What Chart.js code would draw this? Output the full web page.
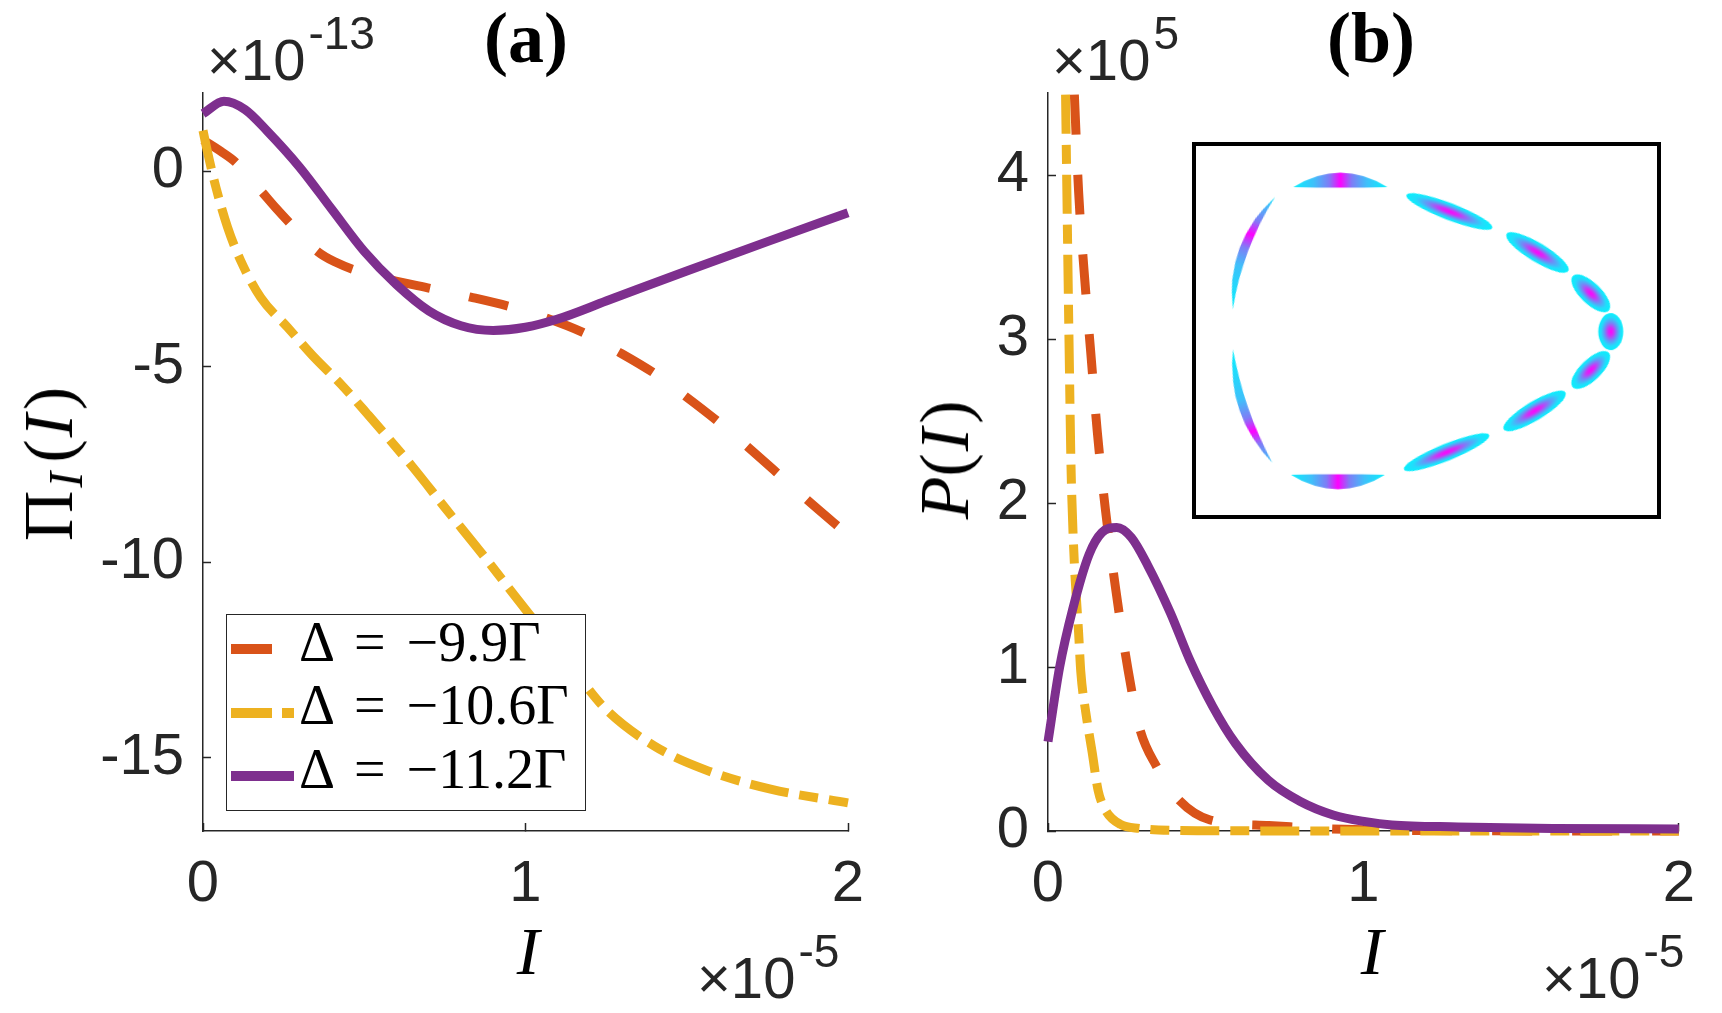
<!DOCTYPE html>
<html>
<head>
<meta charset="utf-8">
<script src="https://cdn.jsdelivr.net/npm/chart.js@4.4.0/dist/chart.umd.min.js"></script>
<style>
  html, body { margin: 0; padding: 0; background: #fff; }
  #page { position: relative; width: 1722px; height: 1013px; overflow: hidden; background: #fff; }
  canvas.full { position: absolute; left: 0; top: 0; }
  .t { position: absolute; white-space: nowrap; color: #262626; line-height: 1; }
  .sans { font-family: "Liberation Sans", Arial, sans-serif; font-size: 58px; }
  .sup { font-size: 46px; position: relative; top: -31px; margin-left: 3px; }
  .serif { font-family: "Liberation Serif", "Times New Roman", serif; }
  .title { font-weight: bold; font-size: 72px; color: #000; }
  .lab { font-size: 68px; color: #000; }
  .ylab { font-size: 70px; color: #000; }
  .rot { transform: translate(-50%, -50%) rotate(-90deg); }
  #legendBox { position: absolute; left: 226px; top: 614px; width: 360px; height: 197px;
    box-sizing: border-box; border: 1.5px solid #262626; background: #fff; }
  .swatch { position: absolute; height: 10px; }
  .ltxt { font-size: 56px; color: #000; }
  .ltxt .op { margin: 0 21px 0 19px; }
  #insetBox { position: absolute; left: 1192px; top: 142px; width: 469px; height: 377px;
    box-sizing: border-box; border: 4px solid #000; background: #fff; }
  #inset { position: absolute; left: 0; top: 0; }
</style>
</head>
<body>
<div id="page">
  <canvas id="chartA" class="full" width="1722" height="1013"></canvas>
  <canvas id="chartB" class="full" width="1722" height="1013"></canvas>

  <div id="titleA" class="t serif title">(a)</div>
  <div id="titleB" class="t serif title">(b)</div>

  <div id="expAy" class="t sans">×10<span class="sup">-13</span></div>
  <div id="expBy" class="t sans">×10<span class="sup">5</span></div>
  <div id="expAx" class="t sans">×10<span class="sup">-5</span></div>
  <div id="expBx" class="t sans">×10<span class="sup">-5</span></div>

  <div id="xlabA" class="t serif lab"><i>I</i></div>
  <div id="xlabB" class="t serif lab"><i>I</i></div>
  <div class="t serif ylab rot" style="left:49px; top:464px;">Π<i style="font-size:0.68em; position:relative; top:0.2em; margin:0 9px 0 3px;">I</i>(<i style="margin:0 4px 0 2px;">I</i>)</div>
  <div class="t serif ylab rot" style="left:945px; top:460px;"><i>P</i>(<i style="margin:0 4px 0 2px;">I</i>)</div>

  <div id="legendBox"></div>
  <div class="swatch" style="left:231px; top:644px; width:41px; background:#D95319;"></div>
  <div class="swatch" style="left:231px; top:708px; width:41px; background:#EDB120;"></div>
  <div class="swatch" style="left:282px; top:708px; width:12px; background:#EDB120;"></div>
  <div class="swatch" style="left:231px; top:771px; width:63px; background:#7E2F8E;"></div>
  <div id="leg1" class="t serif ltxt">Δ<span class="op">=</span>−9.9Γ</div>
  <div id="leg2" class="t serif ltxt">Δ<span class="op">=</span>−10.6Γ</div>
  <div id="leg3" class="t serif ltxt">Δ<span class="op">=</span>−11.2Γ</div>

  <div id="insetBox"><canvas id="inset" width="461" height="369"></canvas></div>
</div>

<script>
const ORANGE = '#D95319', YELLOW = '#EDB120', PURPLE = '#7E2F8E', INK = '#262626';

// shared x axis, I in units of 1e-5
const xTicks = [0, 1, 2];

// panel (a): Pi_I(I) in units of 1e-13
const yTicksA = [-15, -10, -5, 0];
const aOrangeX = [0, 0.055, 0.101, 0.184, 0.226, 0.272, 0.355, 0.412, 0.469, 0.583, 0.707, 0.83, 0.95, 1.064, 1.178, 1.28, 1.396, 1.487, 1.592, 1.675, 1.778, 1.866, 2.0];
const aOrangeY = [0.8, 0.51, 0.23, -0.54, -0.94, -1.35, -2.05, -2.33, -2.52, -2.78, -3.0, -3.22, -3.46, -3.75, -4.12, -4.58, -5.15, -5.7, -6.37, -6.95, -7.7, -8.35, -9.3];
const aYellowX = [0, 0.013, 0.04, 0.076, 0.117, 0.179, 0.262, 0.345, 0.427, 0.51, 0.649, 0.752, 0.872, 0.966, 1.149, 1.248, 1.40, 1.556, 1.76, 2.0];
const aYellowY = [1.04, 0.53, -0.41, -1.43, -2.29, -3.23, -3.99, -4.76, -5.44, -6.21, -7.55, -8.62, -9.85, -10.85, -12.75, -13.75, -14.7, -15.3, -15.8, -16.15];
const aPurpleX = [0, 0.065, 0.13, 0.2, 0.3, 0.4, 0.5, 0.6, 0.7, 0.8, 0.9, 1.0, 1.1, 1.25, 1.5, 1.75, 2.0];
const aPurpleY = [1.47, 1.79, 1.58, 1.02, 0.1, -0.98, -2.05, -2.9, -3.57, -3.95, -4.07, -3.99, -3.78, -3.32, -2.55, -1.8, -1.06];

// panel (b): P(I) in units of 1e5
const yTicksB = [0, 1, 2, 3, 4];
const bOrangeX = [0.0836, 0.097, 0.1146, 0.135, 0.156, 0.182, 0.215, 0.254, 0.29, 0.345, 0.405, 0.514, 0.70, 0.94, 1.3, 2.0];
const bOrangeY = [4.49, 3.90, 3.41, 2.93, 2.44, 1.96, 1.47, 0.98, 0.63, 0.39, 0.21, 0.067, 0.033, 0.01, 0.002, 0];
const bYellowX = [0.0557, 0.0595, 0.0635, 0.068, 0.073, 0.0836, 0.089, 0.097, 0.104, 0.12, 0.14, 0.159, 0.182, 0.23, 0.29, 0.4, 0.6, 1.0, 2.0];
const bYellowY = [4.49, 3.95, 3.40, 2.81, 2.22, 1.63, 1.45, 1.21, 0.97, 0.72, 0.48, 0.246, 0.128, 0.04, 0.016, 0.004, 0.001, 0, 0];
const bPurpleX = [0, 0.037, 0.078, 0.13, 0.171, 0.218, 0.264, 0.316, 0.388, 0.45, 0.522, 0.594, 0.698, 0.80, 0.904, 1.007, 1.09, 1.3, 1.6, 2.0];
const bPurpleY = [0.545, 1.0, 1.35, 1.685, 1.82, 1.85, 1.79, 1.62, 1.33, 1.04, 0.76, 0.535, 0.31, 0.18, 0.098, 0.057, 0.037, 0.025, 0.016, 0.012];

// inset: blob centres in inset coordinates
const insetX = [140, 49.3, 47.9, 137.5, 254.5, 347, 403, 424, 403, 344, 251.6];
const insetY = [32, 102.3, 264.8, 338, 58, 101.5, 145, 185.7, 226.5, 270, 314];

function series(xs, ys) {
  return xs.map((x, i) => ({ x: x, y: ys[i] }));
}

function lineSet(label, xs, ys, color, dash, order, clip) {
  return {
    label: label, data: series(xs, ys), showLine: true,
    borderColor: color, backgroundColor: color, borderWidth: 9,
    borderDash: dash, borderCapStyle: 'butt', borderJoinStyle: 'round',
    pointRadius: 0, pointHoverRadius: 0, cubicInterpolationMode: 'monotone',
    fill: false, order: order, clip: clip
  };
}

function axis(min, max, ticks, fit) {
  return {
    type: 'linear', min: min, max: max,
    afterBuildTicks: s => { s.ticks = ticks.map(v => ({ value: v })); },
    afterFit: fit,
    grid: { drawOnChartArea: false, drawTicks: true, tickLength: -8, tickWidth: 1.5, tickColor: INK },
    border: { display: true, color: INK, width: 1.5 },
    ticks: {
      color: INK, font: { family: 'Liberation Sans', size: 58 }, padding: 27,
      autoSkip: false, maxRotation: 0, callback: v => String(v)
    }
  };
}

function panel(id, sets, yMin, yMax, yTicks, left, right, top, bottom) {
  return new Chart(document.getElementById(id), {
    type: 'scatter',
    data: { datasets: sets },
    options: {
      responsive: false, animation: false, events: [],
      layout: { padding: { left: 0, top: top, right: 1722 - right, bottom: 0 } },
      plugins: { legend: { display: false }, tooltip: { enabled: false } },
      scales: {
        x: axis(0, 2, xTicks, s => { s.height = 1013 - bottom; }),
        y: axis(yMin, yMax, yTicks, s => { s.width = left; })
      }
    }
  });
}

const clipA = { left: 6, right: 6, top: 6, bottom: 0 };
const clipB = { left: 6, right: 6, top: 0, bottom: 6 };

panel('chartA', [
  lineSet('Δ = −9.9Γ', aOrangeX, aOrangeY, ORANGE, [40, 40], 3, clipA),
  lineSet('Δ = −10.6Γ', aYellowX, aYellowY, YELLOW, [39, 11, 19, 11], 2, clipA),
  lineSet('Δ = −11.2Γ', aPurpleX, aPurpleY, PURPLE, [], 1, clipA)
], -16.87, 2.0, yTicksA, 203, 848, 93, 831);

panel('chartB', [
  lineSet('Δ = −9.9Γ', bOrangeX, bOrangeY, ORANGE, [40, 40], 3, clipB),
  lineSet('Δ = −10.6Γ', bYellowX, bYellowY, YELLOW, [39, 11, 19, 11], 2, clipB),
  lineSet('Δ = −11.2Γ', bPurpleX, bPurpleY, PURPLE, [], 1, clipB)
], 0, 4.5, yTicksB, 1048, 1694, 93, 831);

// inset blobs: length, thickness, bend, angle (deg), where the magenta core sits
const blobShapes = [
  { len: 94, thick: 15, bow: 7, angle: 0, hot: 0.5 },
  { len: 120, thick: 9, bow: 10.7, angle: -69.4, hot: 0.64 },
  { len: 120, thick: 9, bow: 9.3, angle: -109.1, hot: 0.3 },
  { len: 94, thick: 15, bow: 7, angle: 180, hot: 0.5 },
  { len: 92, thick: 17, bow: 0, angle: 21 },
  { len: 72, thick: 19, bow: 0, angle: 31 },
  { len: 50, thick: 21, bow: 0, angle: 44 },
  { len: 37, thick: 25, bow: 0, angle: 90 },
  { len: 50, thick: 21, bow: 0, angle: -44 },
  { len: 72, thick: 19, bow: 0, angle: -31 },
  { len: 92, thick: 17, bow: 0, angle: -22 }
];

function blobImage(b) {
  const w = Math.ceil(b.len + 6), h = Math.ceil(2 * (b.thick + b.bow) + 6);
  const c = document.createElement('canvas');
  c.width = w; c.height = h;
  const g = c.getContext('2d');
  g.translate(w / 2, h / 2);
  if (b.bow === 0) {
    g.scale(b.len / 2, b.thick / 2);
    const rg = g.createRadialGradient(0, 0, 0, 0, 0, 1);
    rg.addColorStop(0, '#ff00ff');
    rg.addColorStop(0.22, '#d22ef6');
    rg.addColorStop(0.5, '#6c8ff6');
    rg.addColorStop(0.78, '#22dcfb');
    rg.addColorStop(1, '#08f0fd');
    g.fillStyle = rg;
    g.beginPath(); g.arc(0, 0, 1, 0, Math.PI * 2); g.fill();
  } else {
    const L = b.len / 2, T = b.thick, B = b.bow;
    const lg = g.createLinearGradient(-L, 0, L, 0);
    lg.addColorStop(0, '#08f0fd');
    lg.addColorStop(Math.max(0.01, b.hot - 0.28), '#3fc0fa');
    lg.addColorStop(Math.max(0.02, b.hot - 0.12), '#7f7cf6');
    lg.addColorStop(b.hot, '#ff00ff');
    lg.addColorStop(Math.min(0.98, b.hot + 0.12), '#7f7cf6');
    lg.addColorStop(Math.min(0.99, b.hot + 0.28), '#3fc0fa');
    lg.addColorStop(1, '#08f0fd');
    g.fillStyle = lg;
    g.beginPath();
    g.moveTo(-L, 0);
    g.quadraticCurveTo(0, -(2 * B + T), L, 0);
    g.quadraticCurveTo(0, -(2 * B - T), -L, 0);
    g.fill();
  }
  return c;
}

new Chart(document.getElementById('inset'), {
  type: 'scatter',
  data: {
    datasets: [{
      data: series(insetX, insetY),
      pointStyle: blobShapes.map(blobImage),
      rotation: blobShapes.map(b => b.angle),
      pointRadius: 10, showLine: false
    }]
  },
  options: {
    responsive: false, animation: false, events: [],
    layout: { padding: 0 },
    plugins: { legend: { display: false }, tooltip: { enabled: false } },
    scales: {
      x: { type: 'linear', min: 0, max: 461, display: false },
      y: { type: 'linear', min: 0, max: 369, reverse: true, display: false }
    }
  }
});

// put a text element's baseline at (x, baseline); anchor 'left' or 'center'
function place(id, x, baseline, anchor) {
  const el = document.getElementById(id);
  el.style.left = '0px'; el.style.top = '0px';
  const probe = document.createElement('span');
  probe.style.cssText = 'display:inline-block;width:0;height:0;vertical-align:baseline';
  el.appendChild(probe);
  const r = el.getBoundingClientRect();
  const off = probe.getBoundingClientRect().top - r.top;
  el.removeChild(probe);
  el.style.top = (baseline - off) + 'px';
  el.style.left = (anchor === 'center' ? x - r.width / 2 : x) + 'px';
}

place('titleA', 526, 62, 'center');
place('titleB', 1371, 62, 'center');
place('expAy', 207, 80, 'left');
place('expBy', 1052, 80, 'left');
place('expAx', 697, 998, 'left');
place('expBx', 1542, 998, 'left');
place('xlabA', 528, 974, 'center');
place('xlabB', 1372, 974, 'center');
place('leg1', 299, 661, 'left');
place('leg2', 299, 724, 'left');
place('leg3', 299, 788, 'left');
</script>
</body>
</html>
